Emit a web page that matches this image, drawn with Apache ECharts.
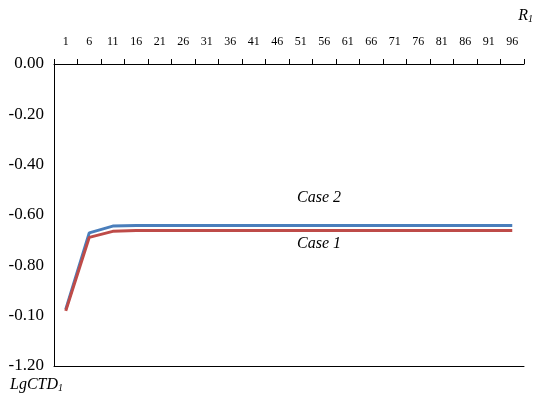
<!DOCTYPE html>
<html><head><meta charset="utf-8">
<script src="https://cdn.jsdelivr.net/npm/echarts@6/dist/echarts.min.js"></script>
<style>html,body{margin:0;padding:0;background:#fff}#c{width:535px;height:398px}</style>
</head><body><div id="c"></div>
<script>
var categories = ["1","6","11","16","21","26","31","36","41","46","51","56","61","66","71","76","81","86","91","96"];
var case2 = [-0.975,-0.671,-0.644,-0.642,-0.642,-0.642,-0.642,-0.642,-0.642,-0.642,-0.642,-0.642,-0.642,-0.642,-0.642,-0.642,-0.642,-0.642,-0.642,-0.642];
var case1 = [-0.981,-0.689,-0.665,-0.662,-0.662,-0.662,-0.662,-0.662,-0.662,-0.662,-0.662,-0.662,-0.662,-0.662,-0.662,-0.662,-0.662,-0.662,-0.662,-0.662];
var yTickLabels = ["0.00","-0.20","-0.40","-0.60","-0.80","-0.10","-1.20"];
var seriesNames = ["Case 2","Case 1"];

var FONT = "Liberation Serif";
var chart = echarts.init(document.getElementById('c'), null, {renderer:'canvas'});
chart.setOption({
  animation:false,
  backgroundColor:'#fff',
  grid:{left:54,right:11,top:64,bottom:32,containLabel:false},
  xAxis:[{
    type:'category', position:'top', data:categories, boundaryGap:true,
    axisLine:{show:true,onZero:false,lineStyle:{color:'#000',width:1}},
    axisTick:{show:true,inside:false,length:5,interval:0,lineStyle:{color:'#000'}},
    axisLabel:{interval:0,margin:16,fontFamily:FONT,fontSize:12,color:'#000'},
    splitLine:{show:false}
  },{
    type:'category', position:'bottom', data:categories, boundaryGap:true,
    axisLine:{show:true,onZero:false,lineStyle:{color:'#000',width:1}},
    axisTick:{show:false}, axisLabel:{show:false}, splitLine:{show:false}
  }],
  yAxis:{
    type:'value', min:-1.2, max:0, interval:0.2,
    axisLine:{show:true,lineStyle:{color:'#000',width:1}},
    axisTick:{show:false},
    splitLine:{show:false},
    axisLabel:{margin:10,fontFamily:FONT,fontSize:17,color:'#000',
      formatter:function(v){var i=Math.round(-v*5);return yTickLabels[i];}}
  },
  series:[
    {name:seriesNames[0],type:'line',data:case2,showSymbol:false,symbol:'none',
     lineStyle:{color:'#4a7ebb',width:3},itemStyle:{color:'#4a7ebb'},z:2},
    {name:seriesNames[1],type:'line',data:case1,showSymbol:false,symbol:'none',
     lineStyle:{color:'#be4b48',width:3},itemStyle:{color:'#be4b48'},z:3}
  ],
  graphic:[
    {type:'text',left:297,top:190,style:{text:seriesNames[0],font:'italic 16px "Liberation Serif"',fill:'#000'}},
    {type:'text',left:297,top:236,style:{text:seriesNames[1],font:'italic 16px "Liberation Serif"',fill:'#000'}},
    {type:'text',right:2,top:8,style:{text:'{a|R}{s|1}',rich:{a:{fontFamily:FONT,fontStyle:'italic',fontSize:16,color:'#000'},s:{fontFamily:FONT,fontStyle:'italic',fontSize:10,verticalAlign:'bottom',color:'#000',padding:[6,0,0,0]}}}},
    {type:'text',left:10,top:377,style:{text:'{a|LgCTD}{s|1}',rich:{a:{fontFamily:FONT,fontStyle:'italic',fontSize:16,color:'#000'},s:{fontFamily:FONT,fontStyle:'italic',fontSize:10,verticalAlign:'bottom',color:'#000',padding:[6,0,0,0]}}}}
  ]
});
</script></body></html>
